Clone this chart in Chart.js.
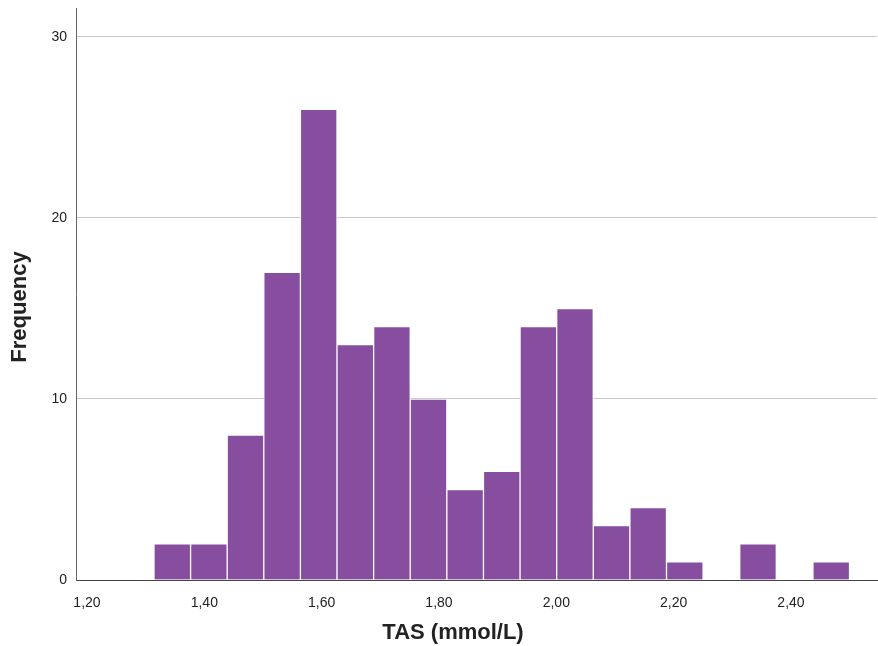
<!DOCTYPE html>
<html lang="en">
<head>
  <meta charset="UTF-8">
  <title>TAS histogram</title>
  <script src="https://cdn.jsdelivr.net/npm/chart.js"></script>
  <style>
    html, body { margin: 0; padding: 0; background: #fff; }
    #wrap { width: 878px; height: 646px; }
  </style>
</head>
<body>
  <div id="wrap"><canvas id="histChart" width="878" height="646"></canvas></div>

  <script>
    // bin centres (TAS, mmol/L) and counts
    const binCenters = [1.3454, 1.4078, 1.4702, 1.5326, 1.5950, 1.6574, 1.7198, 1.7822, 1.8446, 1.9070,
                        1.9694, 2.0318, 2.0942, 2.1566, 2.2190, 2.2814, 2.3438, 2.4062, 2.4686];
    const counts = [2, 2, 8, 17, 26, 13, 14, 10, 5, 6, 14, 15, 3, 4, 1, 0, 2, 0, 1];
    const xTicks = [1.2, 1.4, 1.6, 1.8, 2.0, 2.2, 2.4];
    const yTicks = [0, 10, 20, 30];
    const xTitle = 'TAS (mmol/L)';
    const yTitle = 'Frequency';

    const font = 'Liberation Sans, Arial, sans-serif';

    // the axis titles sit a little off centre in the original, so draw them by hand
    const axisTitles = {
      id: 'axisTitles',
      afterDraw(chart) {
        const ctx = chart.ctx;
        ctx.save();
        ctx.fillStyle = '#222';
        ctx.font = 'bold 22px ' + font;
        ctx.textAlign = 'center';
        ctx.textBaseline = 'middle';
        ctx.fillText(xTitle, 453, 633);
        ctx.translate(20, 307);
        ctx.rotate(-Math.PI / 2);
        ctx.fillText(yTitle, 0, 0);
        ctx.restore();
      }
    };

    new Chart(document.getElementById('histChart'), {
      type: 'bar',
      data: {
        datasets: [{
          data: binCenters.map((c, i) => ({ x: c, y: counts[i] })),
          backgroundColor: '#874EA0',
          borderColor: '#ffffff',
          borderWidth: 1,
          borderSkipped: 'start',
          barPercentage: 1,
          categoryPercentage: 1
        }]
      },
      plugins: [axisTitles],
      options: {
        responsive: false,
        animation: false,
        layout: { padding: { top: 8, right: 1, left: 0, bottom: 0 } },
        plugins: { legend: { display: false }, tooltip: { enabled: false } },
        scales: {
          x: {
            type: 'linear',
            min: 1.1813,
            max: 2.5466,
            offset: false,
            grid: { display: false, offset: false, drawTicks: false },
            border: { color: '#444', width: 1 },
            afterBuildTicks: s => { s.ticks = xTicks.map(v => ({ value: v })); },
            afterFit: s => { s.height = 66; },
            ticks: {
              padding: 15,
              color: '#222',
              font: { family: font, size: 14 },
              maxRotation: 0,
              callback: v => v.toFixed(2).replace('.', ',')
            }
          },
          y: {
            min: 0,
            max: 31.6,
            grid: {
              drawTicks: false,
              color: c => c.tick && c.tick.value === 0 ? 'rgba(0,0,0,0)' : '#c8c8c8'
            },
            border: { color: '#666', width: 1 },
            afterBuildTicks: s => { s.ticks = yTicks.map(v => ({ value: v })); },
            afterFit: s => { s.width = 76; s.paddingTop = 0; s.paddingBottom = 0; },
            ticks: {
              padding: 9,
              color: '#222',
              font: { family: font, size: 14 }
            }
          }
        }
      }
    });
  </script>
</body>
</html>
